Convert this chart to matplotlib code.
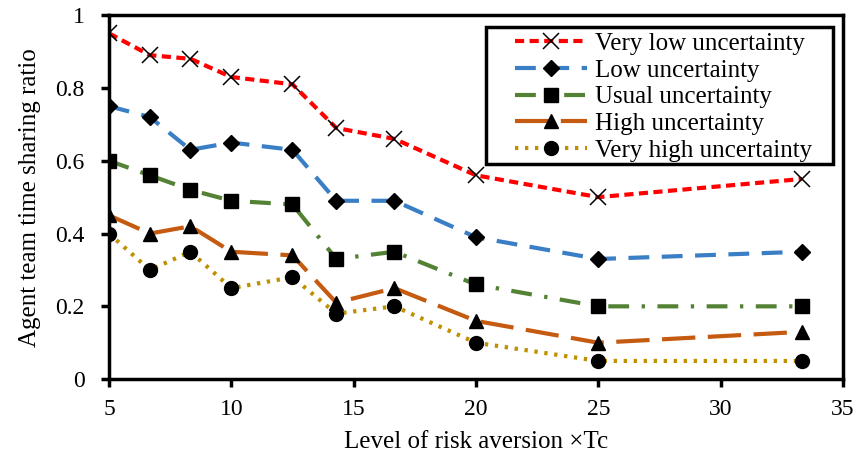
import matplotlib
matplotlib.use("Agg")
import matplotlib.pyplot as plt
from matplotlib.patches import Rectangle

x = [5, 6.67, 8.33, 10, 12.5, 14.29, 16.67, 20, 25, 33.33]
very_low = [0.95, 0.89, 0.88, 0.83, 0.81, 0.69, 0.66, 0.56, 0.50, 0.55]
low = [0.75, 0.72, 0.63, 0.65, 0.63, 0.49, 0.49, 0.39, 0.33, 0.35]
usual = [0.60, 0.56, 0.52, 0.49, 0.48, 0.33, 0.35, 0.26, 0.20, 0.20]
high = [0.45, 0.40, 0.42, 0.35, 0.34, 0.21, 0.25, 0.16, 0.10, 0.13]
very_high = [0.40, 0.30, 0.35, 0.25, 0.28, 0.18, 0.20, 0.10, 0.05, 0.05]
labels = ["Very low uncertainty", "Low uncertainty", "Usual uncertainty",
          "High uncertainty", "Very high uncertainty"]

plt.rcParams['font.family'] = ['Liberation Serif', 'DejaVu Serif']

fig = plt.figure(figsize=(8.58, 4.59), dpi=100)
ax = fig.add_axes([0.127, 0.174, 0.8555, 0.793])

lw = 3
ax.plot(x, very_low, color='#FF0000', lw=lw, linestyle=(0, (2.2, 1.3)),
        marker='x', markersize=11, markeredgecolor='black', markeredgewidth=1.1,
        label=labels[0])
ax.plot(x, low, color='#3A7EC5', lw=lw, linestyle=(0, (5, 3)),
        marker='D', markersize=8, markerfacecolor='black', markeredgecolor='black',
        label=labels[1])
ax.plot(x, usual, color='#548235', lw=lw, linestyle=(0, (5, 3, 0.8, 3)),
        marker='s', markersize=10, markerfacecolor='black', markeredgecolor='black',
        label=labels[2])
ax.plot(x, high, color='#C55A11', lw=lw, linestyle=(0, (8, 3)),
        marker='^', markersize=10, markerfacecolor='black', markeredgecolor='black',
        label=labels[3])
ax.plot(x, very_high, color='#BF9000', lw=lw, linestyle=(0, (0.8, 1.6)),
        marker='o', markersize=10, markerfacecolor='black', markeredgecolor='black',
        label=labels[4])

ax.set_xlim(5, 35)
ax.set_ylim(0, 1)
ax.set_xticks([5, 10, 15, 20, 25, 30, 35])
ax.set_yticks([0, 0.2, 0.4, 0.6, 0.8, 1.0])
ax.set_yticklabels(['0', '0.2', '0.4', '0.6', '0.8', '1'])
for sp in ax.spines.values():
    sp.set_linewidth(2.5)
    sp.set_color('black')
ax.tick_params(direction='out', length=5.5, width=2.5, labelsize=17)
ax.tick_params(axis='y', pad=12)
ax.tick_params(axis='x', pad=9)
ax.set_xlabel('Level of risk aversion \u00d7Tc', fontsize=18, labelpad=8)
ax.set_ylabel('Agent team time sharing ratio', fontsize=18, labelpad=10)

# legend frame drawn separately for asymmetric padding
box = Rectangle((0.5136, 0.5907), 0.4728, 0.3763, transform=ax.transAxes,
                facecolor='white', edgecolor='black', linewidth=2.5, zorder=5)
ax.add_patch(box)
leg = ax.legend(loc='center', bbox_to_anchor=(0.755, 0.775), fontsize=18,
                frameon=False, labelspacing=0.17, handlelength=2.9,
                handletextpad=0.3, borderaxespad=0, borderpad=0)
leg.set_zorder(6)

fig.savefig('out.png', dpi=100)
